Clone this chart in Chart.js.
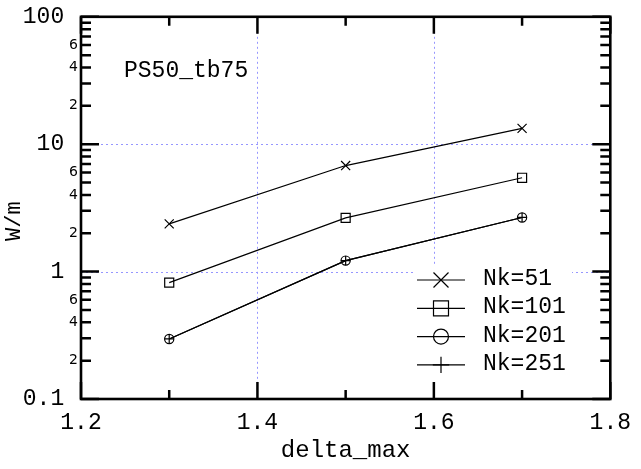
<!DOCTYPE html>
<html>
<head>
<meta charset="utf-8">
<script src="https://cdn.jsdelivr.net/npm/chart.js"></script>
<style>
html,body{margin:0;padding:0;background:#fff;}
canvas{display:block;}
</style>
</head>
<body>
<canvas id="c" width="641" height="469"></canvas>
<script>
// ---- data ----
const deltaMax = [1.3, 1.5, 1.7];
const nk51  = [2.37, 6.8, 13.3];
const nk101 = [0.82, 2.64, 5.45];
const nk201 = [0.296, 1.22, 2.66];
const nk251 = [0.296, 1.22, 2.66];
const seriesLabels = ['Nk=51', 'Nk=101', 'Nk=201', 'Nk=251'];
const xTickLabels = [1.2, 1.4, 1.6, 1.8];
const xMinorTicks = [1.3, 1.5, 1.7];
const xGridValues = [1.4, 1.6];
const yDecades = [0.1, 1, 10, 100];
const yGridValues = [1, 10];
const yMinorLabelled = [2, 4, 6];
const annotationText = 'PS50_tb75';

const MONO = '"Liberation Mono", "Courier New", monospace';
const SMALL = '"DejaVu Sans", sans-serif';
const GRIDC = 'rgb(150,150,255)';

function pts(vals){ return deltaMax.map((x,i)=>({x:x, y:vals[i]})); }

// all y tick values: decades and 2..9 multiples
const yTickValues = [];
yDecades.forEach((d,i)=>{
  yTickValues.push(d);
  if (i < yDecades.length-1) for (let k=2;k<=9;k++) yTickValues.push(+(d*k).toPrecision(3));
});
function isDecade(v){ return yDecades.some(d=>Math.abs(d-v)/d < 1e-6); }
function mantissa(v){ const e = Math.floor(Math.log10(v)+1e-9); return Math.round(v/Math.pow(10,e)); }

const styles = [
  {ps:'crossRot', r:6.4, lr:10.6},
  {ps:'rect', r:6.4, lr:10.6},
  {ps:'circle', r:4.6, lr:7.5},
  {ps:'cross', r:4.6, lr:8.2}
];
const seriesData = [nk51, nk101, nk201, nk251];

const datasets = seriesData.map((vals,i)=>({
  label: seriesLabels[i],
  data: pts(vals),
  borderColor: '#000',
  borderWidth: 1.2,
  backgroundColor: 'rgba(0,0,0,0)',
  pointStyle: styles[i].ps,
  pointRadius: styles[i].r,
  pointHoverRadius: styles[i].r,
  pointBorderColor: '#000',
  pointBackgroundColor: 'rgba(0,0,0,0)',
  pointBorderWidth: 1.2,
  fill: false,
  tension: 0
}));

function drawMarker(ctx, style, r, x, y){
  ctx.save();
  ctx.fillStyle = 'rgba(0,0,0,0)';
  ctx.strokeStyle = '#000';
  ctx.lineWidth = 1.2;
  if (Chart.helpers && Chart.helpers.drawPoint) {
    Chart.helpers.drawPoint(ctx, {pointStyle: style, radius: r, rotation: 0, borderWidth: 1.2}, x, y);
  } else {
    ctx.beginPath();
    if (style==='circle'){ ctx.arc(x,y,r,0,Math.PI*2); }
    else if (style==='rect'){ const s=r*Math.SQRT1_2; ctx.rect(x-s,y-s,2*s,2*s); }
    else if (style==='cross'){ ctx.moveTo(x-r,y);ctx.lineTo(x+r,y);ctx.moveTo(x,y-r);ctx.lineTo(x,y+r); }
    else { const s=r*Math.SQRT1_2; ctx.moveTo(x-s,y-s);ctx.lineTo(x+s,y+s);ctx.moveTo(x+s,y-s);ctx.lineTo(x-s,y+s); }
    ctx.stroke();
  }
  ctx.restore();
}

const gridPlugin = {
  id: 'dottedGrid',
  beforeDatasetsDraw(chart){
    const ctx = chart.ctx, a = chart.chartArea;
    const xs = chart.scales.x, ys = chart.scales.y;
    ctx.save();
    ctx.strokeStyle = GRIDC;
    ctx.lineWidth = 1;
    ctx.setLineDash([2, 3]);
    ctx.beginPath();
    xGridValues.forEach(v=>{
      const px = Math.round(xs.getPixelForValue(v)) + 0.5;
      ctx.moveTo(px, a.top); ctx.lineTo(px, a.bottom);
    });
    yGridValues.forEach(v=>{
      const py = Math.round(ys.getPixelForValue(v)) + 0.5;
      ctx.moveTo(a.left, py); ctx.lineTo(a.right, py);
    });
    ctx.stroke();
    ctx.restore();
  }
};

const framePlugin = {
  id: 'frame',
  afterDatasetsDraw(chart){
    const ctx = chart.ctx, a = chart.chartArea;
    const xs = chart.scales.x, ys = chart.scales.y;
    ctx.save();
    // legend box (opaque)
    ctx.fillStyle = '#fff';
    ctx.fillRect(413, 265, 159, 119);
    // legend entries
    ctx.font = '23px ' + MONO;
    ctx.textBaseline = 'alphabetic';
    ctx.textAlign = 'left';
    const rows = [280, 308.3, 336.6, 364.9];
    chart.data.datasets.forEach((ds,i)=>{
      const y = rows[i];
      ctx.strokeStyle = '#000';
      ctx.lineWidth = 1.2;
      ctx.beginPath(); ctx.moveTo(417, y); ctx.lineTo(465, y); ctx.stroke();
      drawMarker(ctx, styles[i].ps, styles[i].lr, 441, y);
      ctx.fillStyle = '#000';
      ctx.fillText(ds.label, 483, y + 5);
    });
    // ticks
    ctx.strokeStyle = '#000';
    ctx.lineWidth = 2.5;
    ctx.lineCap = 'butt';
    ctx.beginPath();
    const xAll = xTickLabels.map(v=>[v,17]).concat(xMinorTicks.map(v=>[v,9]));
    xAll.forEach(([v,len])=>{
      const px = xs.getPixelForValue(v);
      ctx.moveTo(px, a.top); ctx.lineTo(px, a.top + len);
      ctx.moveTo(px, a.bottom); ctx.lineTo(px, a.bottom - len);
    });
    yTickValues.forEach(v=>{
      const py = ys.getPixelForValue(v);
      const len = isDecade(v) ? 18 : 10;
      ctx.moveTo(a.left, py); ctx.lineTo(a.left + len, py);
      ctx.moveTo(a.right, py); ctx.lineTo(a.right - len, py);
    });
    ctx.stroke();
    // frame
    ctx.lineWidth = 2.6;
    ctx.strokeRect(a.left, a.top, a.right - a.left, a.bottom - a.top);
    // annotation
    ctx.fillStyle = '#000';
    ctx.font = '23px ' + MONO;
    ctx.textAlign = 'left';
    ctx.textBaseline = 'alphabetic';
    ctx.fillText(annotationText, 124, 77);
    ctx.restore();
  }
};

new Chart(document.getElementById('c'), {
  type: 'line',
  data: { datasets },
  plugins: [gridPlugin, framePlugin],
  options: {
    responsive: false,
    animation: false,
    devicePixelRatio: 1,
    layout: { padding: { left: 0, top: 15, right: 21, bottom: 0 } },
    plugins: { legend: { display: false }, tooltip: { enabled: false } },
    scales: {
      x: {
        type: 'linear',
        min: 1.2, max: 1.8,
        afterBuildTicks(scale){ scale.ticks = xTickLabels.map(v=>({value:v})); },
        afterFit(scale){ scale.height = 70; },
        ticks: {
          autoSkip: false, maxRotation: 0, padding: 10,
          color: '#000',
          font: { family: MONO, size: 23 },
          callback: (v)=> Number(v).toFixed(1)
        },
        grid: { display: false, drawTicks: false },
        border: { display: false },
        title: {
          display: true, text: 'delta_max', color: '#000',
          font: { family: MONO, size: 24 },
          padding: { top: 0, bottom: 4 }
        }
      },
      y: {
        type: 'logarithmic',
        min: 0.1, max: 100,
        afterBuildTicks(scale){ scale.ticks = yTickValues.map(v=>({value:v})); },
        afterFit(scale){ scale.width = 81; },
        ticks: {
          autoSkip: false, padding: 3,
          color: '#000',
          font: (c)=> (c.tick && isDecade(c.tick.value)) ? { family: MONO, size: 23 } : { family: SMALL, size: 14 },
          callback: (v)=> {
            if (isDecade(v)) return (v < 1 ? String(v) : String(Math.round(v))) + ' ';
            const m = mantissa(v);
            return yMinorLabelled.includes(m) ? String(m) : '';
          }
        },
        grid: { display: false, drawTicks: false },
        border: { display: false },
        title: {
          display: true, text: 'W/m  ', color: '#000',
          font: { family: MONO, size: 22 },
          padding: { top: 1, bottom: 0 }
        }
      }
    }
  }
});
</script>
</body>
</html>
